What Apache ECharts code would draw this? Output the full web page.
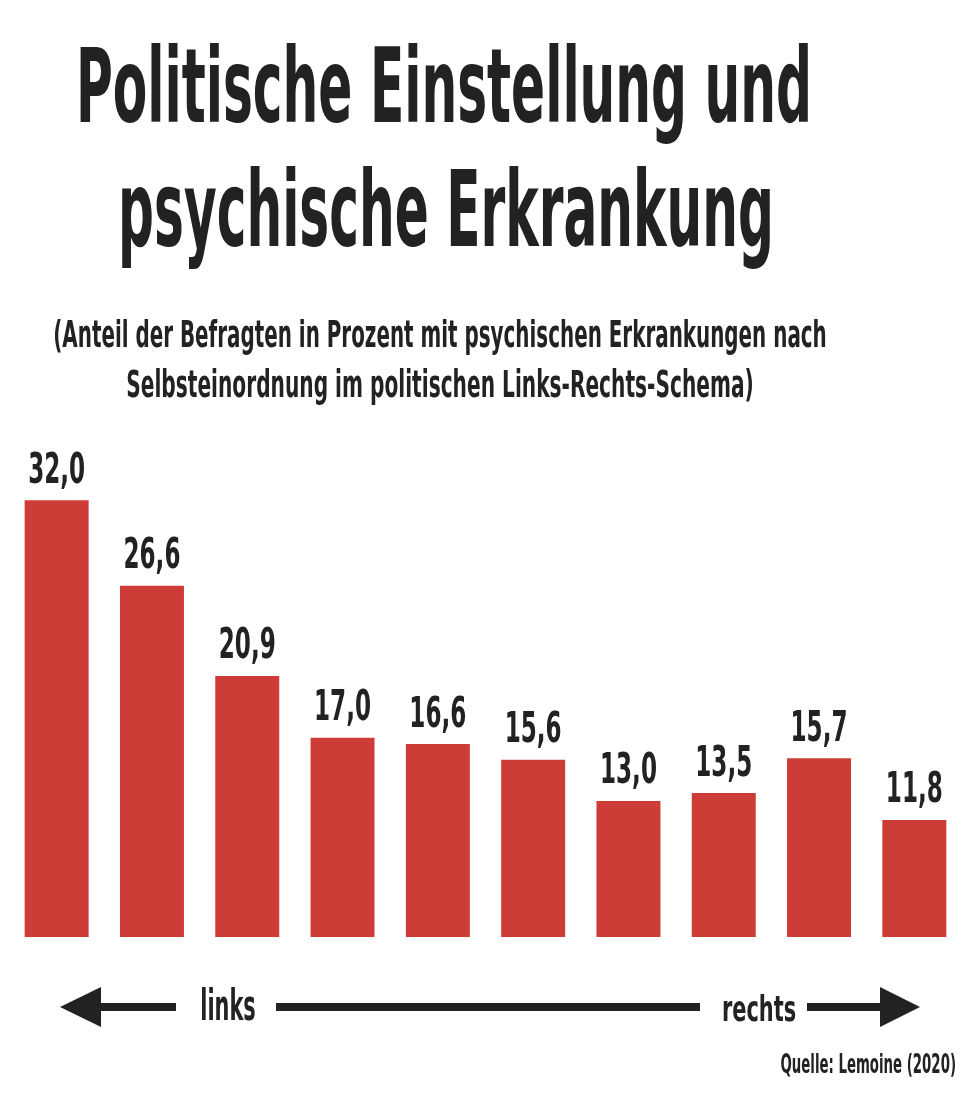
<!DOCTYPE html>
<html>
<head>
<meta charset="utf-8">
<script src="https://cdn.jsdelivr.net/npm/echarts@6/dist/echarts.min.js"></script>
<style>
html,body{margin:0;padding:0;background:#fff;}
#c{width:968px;height:1096px;}
</style>
</head>
<body>
<div id="c"></div>
<script>
// ---- data ----
const categories = ['1', '2', '3', '4', '5', '6', '7', '8', '9', '10'];
const values = [32.0, 26.6, 20.9, 17.0, 16.6, 15.6, 13.0, 13.5, 15.7, 11.8];
const titleLines = ['Politische Einstellung und', 'psychische Erkrankung'];
const subtitleLines = ['(Anteil der Befragten in Prozent mit psychischen Erkrankungen nach', 'Selbsteinordnung im politischen Links-Rechts-Schema)'];
const axisLabels = ['links', 'rechts'];
const sourceText = 'Quelle: Lemoine (2020)';

// ---- styling helpers ----
const FAMILY = "'Liberation Sans Narrow','DejaVu Sans Condensed','Liberation Sans',sans-serif";
const INK = '#222222';
const RED = '#cd3c36';
const ctx = document.createElement('canvas').getContext('2d');
function fontStr(size) { return 'bold ' + size + 'px ' + FAMILY; }
ctx.font = fontStr(100);
const capRatio = (ctx.measureText('H').actualBoundingBoxAscent || 72) / 100;
function sizeFor(cap) { return Math.round(cap / capRatio); }
function inkWidth(text, size) {
  ctx.font = fontStr(size);
  const m = ctx.measureText(text);
  const w = (m.actualBoundingBoxLeft || 0) + (m.actualBoundingBoxRight || 0);
  return w > 0 ? w : m.width;
}
const VSHIFT = 0.075;
function fitText(text, cap, targetW, cx, cy, align) {
  const size = sizeFor(cap);
  const s = targetW / inkWidth(text, size);
  return {
    type: 'text', x: cx, y: cy + VSHIFT * size, scaleX: s, silent: true,
    style: {
      text: text, font: fontStr(size), fill: INK,
      align: align || 'center', textAlign: align || 'center',
      verticalAlign: 'middle', textVerticalAlign: 'middle'
    }
  };
}
const fmt = v => v.toFixed(1).replace('.', ',');

const labelSize = sizeFor(31);
const labelScale = 55 / inkWidth(fmt(values[0]), labelSize);

const graphics = [
  fitText(titleLines[0], 76, 728, 444, 87),
  fitText(titleLines[1], 77, 648, 446, 211),
  fitText(subtitleLines[0], 28, 771, 440, 334),
  fitText(subtitleLines[1], 27, 625, 440, 384.5),
  fitText(axisLabels[0], 31, 53, 228, 1006),
  fitText(axisLabels[1], 26, 72, 759, 1009),
  fitText(sourceText, 19, 174, 956, 1064.5, 'right'),
  // arrow
  { type: 'polygon', silent: true, shape: { points: [[60, 1007], [101, 987], [101, 1027]] }, style: { fill: INK } },
  { type: 'rect', silent: true, shape: { x: 100, y: 1003, width: 76, height: 8 }, style: { fill: INK } },
  { type: 'rect', silent: true, shape: { x: 276, y: 1003, width: 424, height: 8 }, style: { fill: INK } },
  { type: 'rect', silent: true, shape: { x: 807, y: 1003, width: 74, height: 8 }, style: { fill: INK } },
  { type: 'polygon', silent: true, shape: { points: [[920, 1007], [880, 987], [880, 1027]] }, style: { fill: INK } }
];

const chart = echarts.init(document.getElementById('c'), null, { renderer: 'canvas' });
chart.setOption({
  animation: false,
  backgroundColor: '#ffffff',
  grid: { left: 9, right: 6, top: 437, bottom: 159, containLabel: false },
  xAxis: {
    type: 'category', data: categories,
    axisLine: { show: false }, axisTick: { show: false }, axisLabel: { show: false }
  },
  yAxis: {
    type: 'value', min: 4.4, max: 36,
    axisLine: { show: false }, axisTick: { show: false }, axisLabel: { show: false },
    splitLine: { show: false }
  },
  series: [
    {
      type: 'bar', data: values, barWidth: 64,
      itemStyle: { color: RED }, silent: true
    },
    {
      type: 'custom', silent: true,
      data: values.map((v, i) => [i, v]),
      renderItem: function (params, api) {
        const v = api.value(1);
        const p = api.coord([api.value(0), v]);
        return {
          type: 'text', x: p[0], y: p[1] - 31.5 + VSHIFT * labelSize, scaleX: labelScale,
          style: {
            text: fmt(v), font: fontStr(labelSize), fill: INK,
            align: 'center', textAlign: 'center',
            verticalAlign: 'middle', textVerticalAlign: 'middle'
          }
        };
      },
      z: 5
    }
  ],
  graphic: graphics
});
</script>
</body>
</html>
